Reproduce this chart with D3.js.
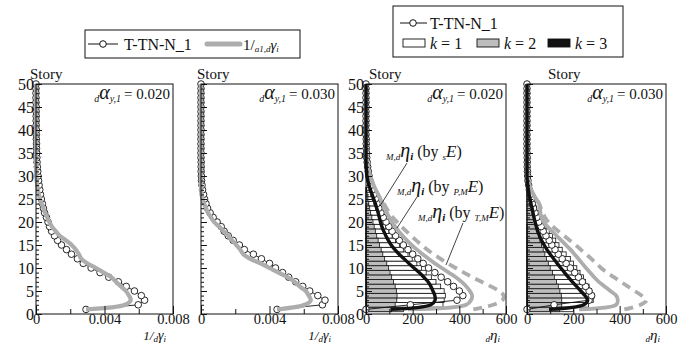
<!DOCTYPE html>
<html>
<head>
<meta charset="utf-8">
<script src="https://cdn.jsdelivr.net/npm/d3@7"></script>
<style>
  html, body { margin: 0; padding: 0; background: #fff; }
  svg { display: block; }
</style>
</head>
<body>
<svg id="chart" width="696" height="345"></svg>
<script>
// ---------- data (story 1 .. 50) ----------
const stories = d3.range(1, 51);

// 1/dγi, dαy,1 = 0.020
const invGamma020_TTN = [0.00292,0.00597,0.00634,0.00615,0.00575,0.00527,0.00481,0.00425,0.00374,0.00322,
  0.00276,0.00242,0.00207,0.00178,0.00149,0.00126,0.00108,0.00091,0.00079,0.00070,
  0.00061,0.00050,0.00043,0.00037,0.00031,0.00026,0.00022,0.00018,0.00015,0.00012,
  0.00010,0.00008,0.00006,0.00005,0.00004,0.00003,0.00003,0.00002,0.00002,0.00002,
  0.00001,0.00001,0.00001,0.00001,0.00001,0,0,0,0,0];
const invGamma020_a1 = [0.00292,0.00520,0.00553,0.00543,0.00525,0.00496,0.00467,0.00440,0.00395,0.00350,
  0.00300,0.00265,0.00250,0.00232,0.00208,0.00175,0.00138,0.00115,0.00093,0.00078,
  0.00065,0.00053,0.00043,0.00033,0.00024,0.00017,0.00011,0.00007,0.00004,0.00002,
  0.00001,0.00001,0,0,0,0,0,0,0,0, 0,0,0,0,0,0,0,0,0,0];

// 1/dγi, dαy,1 = 0.030
const invGamma030_TTN = [0.00444,0.00709,0.00724,0.00682,0.00635,0.00594,0.00553,0.00512,0.00476,0.00435,
  0.00400,0.00353,0.00306,0.00253,0.00224,0.00188,0.00159,0.00135,0.00118,0.00094,
  0.00071,0.00053,0.00038,0.00029,0.00021,0.00015,0.00009,0.00006,0.00003,0.00002,
  0.00001,0.00001,0.00001,0,0,0,0,0,0,0, 0,0,0,0,0,0,0,0,0,0];
const invGamma030_a1 = [0.00444,0.00606,0.00641,0.00629,0.00612,0.00576,0.00547,0.00506,0.00453,0.00400,
  0.00347,0.00288,0.00247,0.00229,0.00206,0.00182,0.00159,0.00132,0.00106,0.00076,
  0.00059,0.00041,0.00029,0.00018,0.00009,0.00003,0.00001,0,0,0,
  0,0,0,0,0,0,0,0,0,0, 0,0,0,0,0,0,0,0,0,0];

// dηi, dαy,1 = 0.020
const eta020_TTN = [0,190,390,415,400,375,350,322,295,268,
  245,222,200,180,160,143,127,112,98,86,
  74,64,55,47,40,33,27,22,17,13,
  10,7,5,3,2,1,1,1,0,0, 0,0,0,0,0,0,0,0,0,0];
const eta020_sE = [105,278,296,295,287,278,266,248,228,206,
  184,163,142,124,108,96,85,76,68,62,
  57,52,46,40,33,26,19,13,8,4,
  2,1,0,0,0,0,0,0,0,0, 0,0,0,0,0,0,0,0,0,0];
const eta020_PME = [180,430,450,455,445,430,410,385,355,325,
  295,268,243,218,195,175,157,140,125,112,
  100,90,80,72,62,52,42,33,25,18,
  12,8,5,3,2,1,1,0,0,0, 0,0,0,0,0,0,0,0,0,0];
const eta020_TME = [460,545,585,590,570,535,495,455,420,385,
  350,320,290,262,238,215,193,172,152,133,
  115,100,88,76,62,52,42,33,25,18,
  12,8,5,3,2,1,1,0,0,0, 0,0,0,0,0,0,0,0,0,0];
const eta020_k1 = [160,330,335,340,335,320,300,280,258,238,
  218,198,180,160,143,127,112,98,85,73,
  62,53,45,38,31,24,18];
const eta020_k2 = [110,125,132,133,130,125,118,110,103,96,
  89,80,72,65,58,52,46,40,35,30,
  25,20,16,12,8,5,3];
const eta020_k3 = [2,3,3,3,3,2,2,2,2,2,
  2,1,1,1,1,1,1,1,1,1,
  1,1,1,0,0,0,0];

// dηi, dαy,1 = 0.030
const eta030_TTN = [0,117,268,279,268,253,239,222,206,187,
  169,152,135,121,107,96,82,70,61,51,
  42,35,28,23,18,14,10,7,4,3,
  2,1,1,1,0,0,0,0,0,0, 0,0,0,0,0,0,0,0,0,0];
const eta030_sE = [95,245,262,250,232,214,196,178,162,146,
  130,115,100,86,74,63,54,46,40,35,
  30,26,22,17,13,9,6,3,1,0,
  0,0,0,0,0,0,0,0,0,0, 0,0,0,0,0,0,0,0,0,0];
const eta030_PME = [225,385,392,385,360,335,310,290,272,255,
  238,222,205,188,168,148,128,108,88,72,
  62,58,56,52,40,28,18,11,6,3,
  1,1,0,0,0,0,0,0,0,0, 0,0,0,0,0,0,0,0,0,0];
const eta030_TME = [420,490,515,495,465,435,405,375,345,320,
  298,278,255,232,210,185,160,135,112,92,
  78,68,60,52,40,28,18,11,6,3,
  1,1,0,0,0,0,0,0,0,0, 0,0,0,0,0,0,0,0,0,0];
const eta030_k1 = [200,265,286,290,279,268,253,244,229,215,
  201,187,169,152,138,124,110,96,82,70,
  61,51,42,34,25,18,11];
const eta030_k2 = [140,150,150,148,142,135,127,118,110,100,
  92,84,77,70,63,56,50,44,38,33,
  28,23,19,15,11,8,5];
const eta030_k3 = [2,2,2,2,2,2,2,1,1,1,
  1,1,1,1,1,1,1,1,1,0,
  0,0,0,0,0,0,0];

const invGammaTicks = [0, 0.004, 0.008];
const etaTicks = [0, 200, 400, 600];
const storyTicks = [0, 5, 10, 15, 20, 25, 30, 35, 40, 45, 50];

// ---------- styles ----------
const FONT = "'Liberation Serif', 'Times New Roman', serif";
const GRAY = "#adadad";
const BAR_GRAY = "#bdbdbd";

const svg = d3.select("#chart");
svg.append("rect").attr("width", 696).attr("height", 345).attr("fill", "#fff");

// rich text: parts = [{t, size, italic, bold, shift}]
function rich(g, x, y, parts, anchor) {
  const txt = g.append("text").attr("x", x).attr("y", y)
    .attr("font-family", FONT).attr("fill", "#111")
    .attr("text-anchor", anchor || "start");
  let cur = 0;
  parts.forEach(p => {
    const s = p.shift || 0;
    txt.append("tspan")
      .attr("dy", s - cur)
      .attr("font-size", p.size)
      .attr("font-style", p.italic ? "italic" : "normal")
      .attr("font-weight", p.bold ? "bold" : "normal")
      .text(p.t);
    cur = s;
  });
  return txt;
}

const y = d3.scaleLinear().domain([0, 50]).range([314, 84]);

const panels = [
  { x0: 36,  x1: 173, domain: [0, 0.008], ticks: invGammaTicks, minor: [0.002, 0.006], fmt: d => d === 0 ? "0" : d3.format(".3f")(d),
    alpha: "0.020", yLabels: true, kind: "gamma", ttn: invGamma020_TTN, ref: invGamma020_a1, story: 30 },
  { x0: 201, x1: 338, domain: [0, 0.008], ticks: invGammaTicks, minor: [0.002, 0.006], fmt: d => d === 0 ? "0" : d3.format(".3f")(d),
    alpha: "0.030", yLabels: false, kind: "gamma", ttn: invGamma030_TTN, ref: invGamma030_a1, story: 197 },
  { x0: 366, x1: 506, domain: [0, 600], ticks: etaTicks, minor: [100, 300, 500], fmt: d => String(d),
    alpha: "0.020", yLabels: true, kind: "eta", ttn: eta020_TTN, sE: eta020_sE, PME: eta020_PME, TME: eta020_TME,
    k1: eta020_k1, k2: eta020_k2, k3: eta020_k3, story: 369 },
  { x0: 527, x1: 666, domain: [0, 600], ticks: etaTicks, minor: [100, 300, 500], fmt: d => String(d),
    alpha: "0.030", yLabels: false, kind: "eta", ttn: eta030_TTN, sE: eta030_sE, PME: eta030_PME, TME: eta030_TME,
    k1: eta030_k1, k2: eta030_k2, k3: eta030_k3, story: 548 }
];

panels.forEach(p => {
  const x = d3.scaleLinear().domain(p.domain).range([p.x0, p.x1]);
  const g = svg.append("g");
  const clipId = "clip" + p.x0;
  svg.append("clipPath").attr("id", clipId)
    .append("rect").attr("x", p.x0 - 6).attr("y", 78).attr("width", p.x1 - p.x0 + 6).attr("height", 240);
  const plot = g.append("g").attr("clip-path", `url(#${clipId})`);

  const lineGen = d3.line()
    .x(d => x(d.v)).y(d => y(d.s))
    .curve(d3.curveCatmullRom.alpha(0.5));
  const pts = arr => arr.map((v, i) => ({ s: stories[i], v }));

  if (p.kind === "eta") {
    // modal bars: k = 1 (white), k = 2 (gray), k = 3 (black), each from zero
    const bh = y(0) - y(1);
    [[p.k1, "#fff"], [p.k2, BAR_GRAY], [p.k3, "#111"]].forEach(([arr, fill]) => {
      plot.selectAll(null).data(arr.map((v, i) => ({ s: i + 1, v }))).enter()
        .append("rect")
        .attr("x", x(0))
        .attr("y", d => y(d.s + 0.5))
        .attr("width", d => x(d.v) - x(0))
        .attr("height", bh)
        .attr("fill", fill)
        .attr("stroke", "#111")
        .attr("stroke-width", 0.8);
    });
  }

  // T-TN-N_1 response: thin line with open circles
  plot.append("path").datum(pts(p.ttn))
    .attr("d", d3.line().x(d => x(d.v)).y(d => y(d.s)))
    .attr("fill", "none").attr("stroke", "#111").attr("stroke-width", 0.9);
  plot.selectAll(null).data(pts(p.ttn)).enter().append("circle")
    .attr("cx", d => x(d.v)).attr("cy", d => y(d.s)).attr("r", 3.3)
    .attr("fill", "#fff").attr("stroke", "#111").attr("stroke-width", 0.9);

  if (p.kind === "gamma") {
    plot.append("path").datum(pts(p.ref))
      .attr("d", lineGen).attr("fill", "none")
      .attr("stroke", GRAY).attr("stroke-width", 4.2).attr("stroke-linejoin", "round");
  } else {
    plot.append("path").datum(pts(p.TME))
      .attr("d", lineGen).attr("fill", "none")
      .attr("stroke", GRAY).attr("stroke-width", 3.8).attr("stroke-dasharray", "9,6");
    plot.append("path").datum(pts(p.PME))
      .attr("d", lineGen).attr("fill", "none")
      .attr("stroke", GRAY).attr("stroke-width", 3.8).attr("stroke-linejoin", "round");
    plot.append("path").datum(pts(p.sE))
      .attr("d", lineGen).attr("fill", "none")
      .attr("stroke", "#111").attr("stroke-width", 3.4).attr("stroke-linejoin", "round");
  }

  // frame
  g.append("rect").attr("x", p.x0).attr("y", y(50))
    .attr("width", p.x1 - p.x0).attr("height", y(0) - y(50))
    .attr("fill", "none").attr("stroke", "#111").attr("stroke-width", 1);

  // story axis: ticks point inward, every story, longer every 5
  const yAxis = d3.axisRight(y).tickValues(d3.range(0, 51))
    .tickSize(3).tickFormat("");
  const ya = g.append("g").attr("transform", `translate(${p.x0},0)`).call(yAxis);
  ya.select(".domain").remove();
  ya.selectAll(".tick line").attr("stroke", "#111")
    .attr("x2", d => d % 5 === 0 ? 6 : 3);
  if (p.yLabels) {
    const yl = g.append("g").attr("transform", `translate(${p.x0},0)`)
      .call(d3.axisLeft(y).tickValues(storyTicks).tickSize(0).tickPadding(2));
    yl.select(".domain").remove();
    yl.selectAll("text").attr("font-family", FONT).attr("font-size", 16).attr("fill", "#111");
  }

  // horizontal axis
  const xa = g.append("g").attr("transform", `translate(0,${y(0)})`)
    .call(d3.axisTop(x).tickValues(p.ticks.concat(p.minor)).tickSize(5).tickFormat(""));
  xa.select(".domain").remove();
  xa.selectAll(".tick line").attr("stroke", "#111")
    .attr("y2", d => p.ticks.includes(d) ? -8 : -5);
  const xl = g.append("g").attr("transform", `translate(0,${y(0)})`)
    .call(d3.axisBottom(x).tickValues(p.ticks).tickSize(0).tickPadding(0).tickFormat(p.fmt));
  xl.select(".domain").remove();
  xl.selectAll("text").attr("font-family", FONT).attr("font-size", 14.5).attr("fill", "#111");

  // titles
  rich(g, p.story, 79, [{ t: "Story", size: 15 }]);
  rich(g, p.x1 - 3, 99, [
    { t: "d", size: 10, italic: true, shift: 3 },
    { t: "α", size: 20, italic: true, shift: 0 },
    { t: "y,1", size: 10, italic: true, shift: 3 },
    { t: "\u2009= " + p.alpha, size: 15, shift: 0 }
  ], "end");

  if (p.kind === "gamma") {
    rich(g, p.x1 - 7, 340, [
      { t: "1/", size: 13, italic: true },
      { t: "d", size: 9, italic: true, shift: 2 },
      { t: "γ", size: 14, italic: true, shift: 0 },
      { t: "i", size: 9, italic: true, shift: 2 }
    ], "end");
  } else {
    rich(g, p.x1 - 6, 342, [
      { t: "d", size: 9, italic: true, shift: 0 },
      { t: "η", size: 15, italic: true, shift: -2 },
      { t: "i", size: 9, italic: true, shift: 0 }
    ], "end");
  }
});

// ---------- annotations in the 0.020 η panel ----------
const ann = svg.append("g");
function etaLabel(xp, yp, subPre) {
  rich(ann, xp, yp, [
    { t: "M,d", size: 9, italic: true, shift: 3 },
    { t: "η", size: 20, italic: true, shift: 0 },
    { t: "i", size: 11, italic: true, bold: true, shift: 3 },
    { t: " (by ", size: 16, shift: 0 },
    { t: subPre, size: 9, italic: true, shift: 3 },
    { t: "E", size: 17, italic: true, shift: 0 },
    { t: ")", size: 16, shift: 0 }
  ]);
}
etaLabel(386, 157, "s");
etaLabel(397, 192, "P,M");
etaLabel(418, 218, "T,M");
[[407, 163, 380, 206], [417, 197, 397, 228], [463, 223, 446, 265]].forEach(([a, b, c, d]) => {
  ann.append("line").attr("x1", a).attr("y1", b).attr("x2", c).attr("y2", d)
    .attr("stroke", "#111").attr("stroke-width", 0.8);
});

// ---------- legends ----------
const leg1 = svg.append("g");
leg1.append("rect").attr("x", 85).attr("y", 30).attr("width", 215).attr("height", 28)
  .attr("fill", "#fff").attr("stroke", "#111").attr("stroke-width", 1);
leg1.append("line").attr("x1", 88).attr("x2", 118).attr("y1", 44).attr("y2", 44).attr("stroke", "#111");
leg1.append("circle").attr("cx", 103).attr("cy", 44).attr("r", 3.3).attr("fill", "#fff").attr("stroke", "#111");
rich(leg1, 124, 50, [{ t: "T-TN-N_1", size: 16 }]);
leg1.append("line").attr("x1", 207).attr("x2", 240).attr("y1", 44).attr("y2", 44)
  .attr("stroke", GRAY).attr("stroke-width", 5).attr("stroke-linecap", "round");
rich(leg1, 243, 50, [
  { t: "1/", size: 15 },
  { t: "a1,d", size: 9, italic: true, shift: 2 },
  { t: "γ", size: 15, italic: true, shift: 0 },
  { t: "i", size: 9, italic: true, shift: 2 }
]);

const leg2 = svg.append("g");
leg2.append("rect").attr("x", 393).attr("y", 6).attr("width", 230).attr("height", 51)
  .attr("fill", "#fff").attr("stroke", "#111").attr("stroke-width", 1);
leg2.append("line").attr("x1", 400).attr("x2", 427).attr("y1", 23).attr("y2", 23).attr("stroke", "#111");
leg2.append("circle").attr("cx", 413).attr("cy", 23).attr("r", 3.3).attr("fill", "#fff").attr("stroke", "#111");
rich(leg2, 430, 29, [{ t: "T-TN-N_1", size: 16 }]);
const keys = [["1", "#fff", 403], ["2", BAR_GRAY, 477], ["3", "#111", 548]];
keys.forEach(([k, fill, kx]) => {
  leg2.append("rect").attr("x", kx).attr("y", 39).attr("width", 22).attr("height", 8)
    .attr("fill", fill).attr("stroke", "#111").attr("stroke-width", 0.9);
  rich(leg2, kx + 27, 49, [{ t: "k", size: 16, italic: true }, { t: " = " + k, size: 16 }]);
});
</script>
</body>
</html>
